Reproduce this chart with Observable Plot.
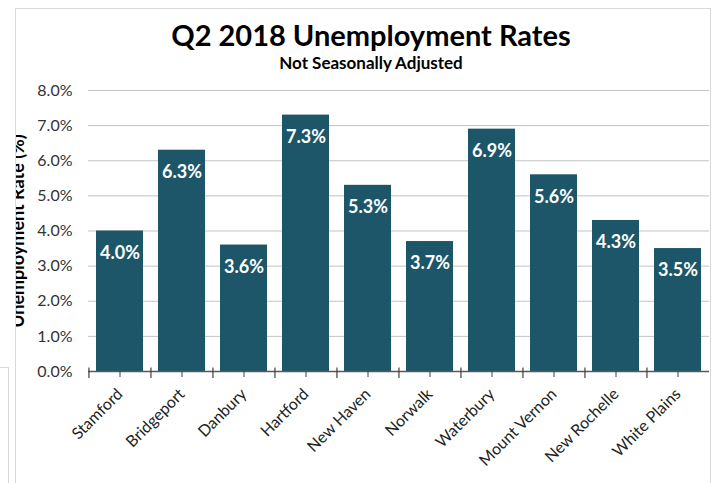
<!DOCTYPE html>
<html>
<head>
<meta charset="utf-8">
<script src="https://cdn.jsdelivr.net/npm/d3@7"></script>
<script src="https://cdn.jsdelivr.net/npm/@observablehq/plot@0.6"></script>
<style>
  html, body { margin: 0; padding: 0; background: #fff; }
  body { width: 714px; height: 483px; position: relative; overflow: hidden; font-family: Lato, "Open Sans", sans-serif; }
  #side { position: absolute; left: -10px; top: 367px; width: 19px; height: 200px; border: 1px solid #d9d9d9; box-sizing: border-box; }
  #frame { position: absolute; left: 15px; top: 8px; width: 696px; height: 500px; border: 1px solid #d9d9d9; box-sizing: border-box; overflow: hidden; background: #fff; }
  #title { position: absolute; left: 5px; width: 700px; top: 11px; text-align: center; font-weight: bold; font-size: 29px; line-height: 29px; color: #000; white-space: nowrap; }
  #subtitle { position: absolute; left: 5px; width: 700px; top: 45px; text-align: center; font-weight: bold; font-size: 17px; line-height: 17px; color: #000; white-space: nowrap; }
  #chart { position: absolute; left: 0; top: 0; }
</style>
</head>
<body>
<div id="side"></div>
<div id="frame">
  <div id="chart"></div>
  <div id="title">Q2 2018 Unemployment Rates</div>
  <div id="subtitle">Not Seasonally Adjusted</div>
</div>
<script>
const cities = ["Stamford", "Bridgeport", "Danbury", "Hartford", "New Haven", "Norwalk", "Waterbury", "Mount Vernon", "New Rochelle", "White Plains"];
const rates = [4.0, 6.3, 3.6, 7.3, 5.3, 3.7, 6.9, 5.6, 4.3, 3.5];
const yTicks = [0, 1, 2, 3, 4, 5, 6, 7, 8];
const yLabel = "Unemployment Rate (%)";

const data = cities.map((c, i) => ({city: c, rate: rates[i]}));

const W = 693, H = 474;
const mL = 72, mR = 0, mT = 81, mB = 112;
const halfStep = (W - mL - mR) / cities.length / 2;
const barColor = "#1d5669";
const fmt = d => d.toFixed(1) + "%";

const chart = Plot.plot({
  width: W,
  height: H,
  marginLeft: mL,
  marginRight: mR,
  marginTop: mT,
  marginBottom: mB,
  style: {fontFamily: "Lato, 'Open Sans', sans-serif", background: "transparent", overflow: "visible"},
  x: {domain: cities, paddingInner: 0.24, paddingOuter: 0.12, align: 0.5, label: null},
  y: {domain: [0, 8], label: null},
  marks: [
    Plot.gridY(yTicks, {stroke: "#c3c3c3", strokeOpacity: 1, strokeWidth: 1}),
    Plot.axisY(yTicks, {tickSize: 0, tickPadding: 16, tickFormat: fmt, fontSize: 16, fill: "#333", label: null}),
    Plot.barY(data, {x: "city", y: "rate", fill: barColor}),
    Plot.text(data, {x: "city", y: "rate", text: d => fmt(d.rate), dy: 22, fill: "white", fontWeight: "bold", fontSize: 18}),
    Plot.ruleY([0], {stroke: "#595959", strokeWidth: 1.5}),
    Plot.ruleX(cities, {x: d => d, y1: -0.2, y2: 0.1, dx: -halfStep, stroke: "#404040", strokeWidth: 1.2}),
    Plot.axisX({tickSize: 6, tickPadding: 14, tickRotate: -45, fontSize: 16, fill: "#222", stroke: "#404040", label: null}),
    Plot.text([yLabel], {frameAnchor: "left", dx: -65, rotate: -90, textAnchor: "middle", lineAnchor: "bottom", fontWeight: "bold", fontSize: 18, fill: "#000"})
  ]
});
document.getElementById("chart").appendChild(chart);
</script>
</body>
</html>
